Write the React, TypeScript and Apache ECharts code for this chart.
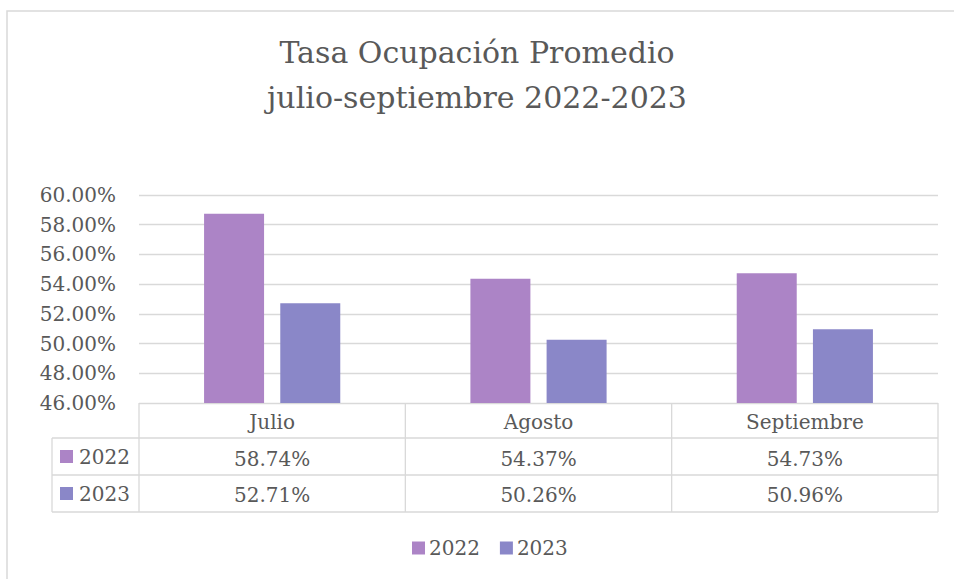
import React, { useEffect, useRef } from "react";
import * as echarts from "echarts";

const categories = ["Julio", "Agosto", "Septiembre"];
const seriesNames = ["2022", "2023"];
const values2022 = [58.74, 54.37, 54.73];
const values2023 = [52.71, 50.26, 50.96];
const yTicks = { min: 46, max: 60, interval: 2 };
const colors = ["#AC84C6", "#8A87C8"];

const FONT = "DejaVu Serif";
const TEXT = "#595959";
const LINE = "#D9D9D9";

export default function App() {
  const ref = useRef<HTMLDivElement>(null);
  useEffect(() => {
    if (!ref.current) return;
    const chart = echarts.init(ref.current, null, { renderer: "svg" });
    const gl = 139, gr = 938, gt = 195, gb = 403;
    const r1 = 438, r2 = 475, r3 = 512, tl = 52;
    const colW = (gr - gl) / categories.length;
    const lineStyle = { stroke: LINE, lineWidth: 1.3 };
    const graphics: any[] = [
      { type: "rect", shape: { x: 7, y: 11, width: 980, height: 620 }, style: { fill: "none", stroke: LINE, lineWidth: 1.5 }, silent: true },
      { type: "line", shape: { x1: tl, y1: r1, x2: gr, y2: r1 }, style: lineStyle },
      { type: "line", shape: { x1: tl, y1: r2, x2: gr, y2: r2 }, style: lineStyle },
      { type: "line", shape: { x1: tl, y1: r3, x2: gr, y2: r3 }, style: lineStyle },
      { type: "line", shape: { x1: tl, y1: r1, x2: tl, y2: r3 }, style: lineStyle },
    ];
    for (let i = 0; i <= categories.length; i++) {
      const x = gl + colW * i;
      graphics.push({ type: "line", shape: { x1: x, y1: gb, x2: x, y2: r3 }, style: lineStyle });
    }
    seriesNames.forEach((n, i) => {
      const cy = i === 0 ? (r1 + r2) / 2 : (r2 + r3) / 2;
      graphics.push({ type: "rect", shape: { x: 60, y: cy - 6.5, width: 13, height: 13 }, style: { fill: colors[i] } });
      graphics.push({
        type: "text", x: 79, y: cy,
        style: { text: n, font: `20px '${FONT}'`, fill: TEXT, verticalAlign: "middle", align: "left" },
      });
    });
    const option: any = {
      animation: false,
      backgroundColor: "#fff",
      title: {
        text: "Tasa Ocupación Promedio\njulio-septiembre 2022-2023",
        left: "center",
        top: 25,
        textStyle: { fontFamily: FONT, fontSize: 30, fontWeight: "normal", color: TEXT, lineHeight: 45 },
      },
      grid: { left: gl, right: 954 - gr, top: gt, bottom: 579 - gb, containLabel: false },
      legend: {
        data: seriesNames,
        bottom: 16,
        left: 407,
        icon: "rect",
        itemWidth: 13,
        itemHeight: 13,
        itemGap: 20,
        textStyle: { fontFamily: FONT, fontSize: 20, color: TEXT, padding: [0, 0, 0, -1] },
      },
      xAxis: {
        type: "category",
        data: categories,
        axisLine: { show: false },
        axisTick: { show: false },
        axisLabel: {
          margin: 1,
          interval: 0,
          formatter: (v: string, idx: number) =>
            `{a|${v}}\n{a|${values2022[idx].toFixed(2)}%}\n{a|${values2023[idx].toFixed(2)}%}`,
          rich: { a: { fontFamily: FONT, fontSize: 20, color: TEXT, lineHeight: 36.5, align: "center" } },
        },
      },
      yAxis: {
        type: "value",
        min: yTicks.min,
        max: yTicks.max,
        interval: yTicks.interval,
        axisLine: { show: false },
        axisTick: { show: false },
        splitLine: { lineStyle: { color: LINE, width: 1.3 } },
        axisLabel: {
          margin: 23,
          formatter: (v: number) => v.toFixed(2) + "%",
          fontFamily: FONT,
          fontSize: 20,
          color: TEXT,
        },
      },
      series: [
        { name: seriesNames[0], type: "bar", data: values2022, itemStyle: { color: colors[0] }, barWidth: 60, barGap: "27%" },
        { name: seriesNames[1], type: "bar", data: values2023, itemStyle: { color: colors[1] }, barWidth: 60, barGap: "27%" },
      ],
      graphic: graphics,
    };
    chart.setOption(option);
    return () => chart.dispose();
  }, []);
  return <div ref={ref} style={{ position: "fixed", left: 0, top: 0, width: 954, height: 579 }} />;
}
